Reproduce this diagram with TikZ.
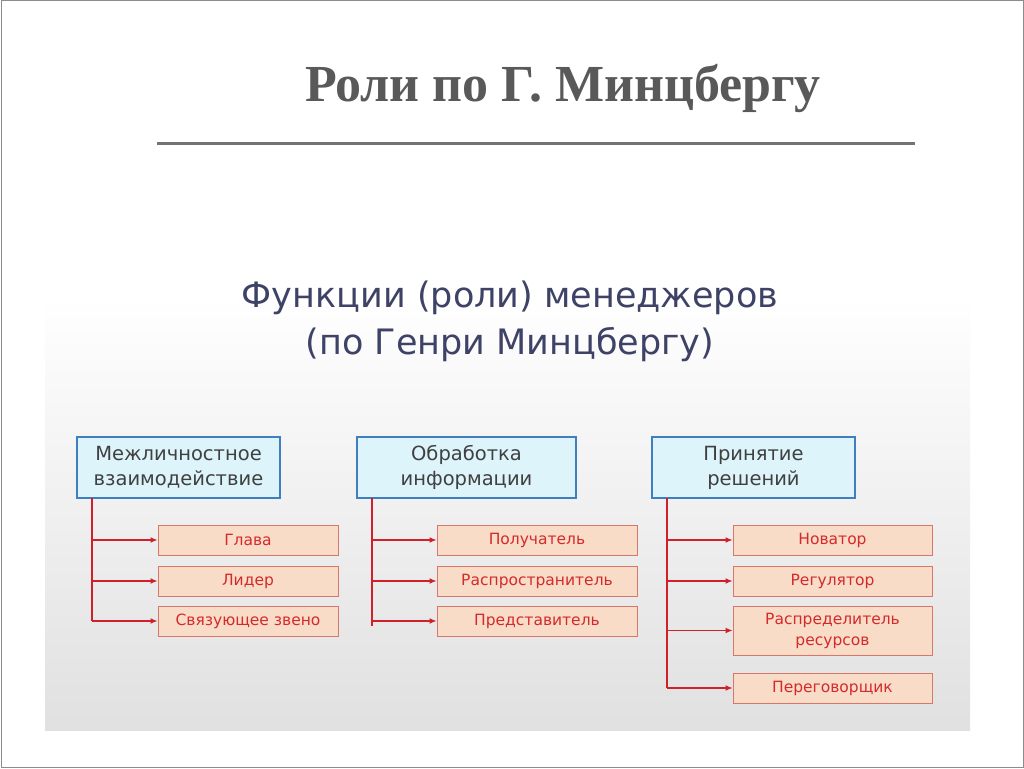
\documentclass[tikz,border=0pt]{standalone}
\usepackage{fontspec}
\setmainfont{DejaVu Sans}
\newfontfamily\titlefont{Liberation Serif}
\usetikzlibrary{arrows.meta}
\definecolor{bluefill}{HTML}{DDF4FB}
\definecolor{blueline}{HTML}{3F7FC0}
\definecolor{redfill}{HTML}{F9DCC8}
\definecolor{redline}{HTML}{D9766A}
\definecolor{redtext}{HTML}{D42A2A}
\definecolor{conn}{HTML}{D0202A}
\definecolor{subt}{HTML}{3E4266}
\tikzset{
 x=1pt,y=-1pt,
 catbox/.style={draw=blueline,fill=bluefill,line width=1.3pt,align=center,font=\fontsize{19.5}{25}\selectfont,text=black!75,inner sep=0pt},
 rolebox/.style={draw=redline,fill=redfill,line width=1pt,align=center,font=\fontsize{15.5}{21}\selectfont,text=redtext,inner sep=0pt,minimum height=30pt},
 link/.style={draw=conn,line width=1.5pt},
 arr/.style={draw=conn,line width=1.2pt,-{Latex[length=7pt,width=6pt]}}
}
\begin{document}
\begin{tikzpicture}
\useasboundingbox (0,0) rectangle (1024,768);
\fill[white] (0,0) rectangle (1024,768);
\draw[black!45,line width=1pt] (1,1) rectangle (1023,767);
\node[font=\titlefont\bfseries\fontsize{52}{56}\selectfont,text=black!65] (title) at (563,88) {Роли по Г. Минцбергу};
\draw[black!55,line width=3pt] (157,143) -- (915,143);
\shade[top color=white,bottom color=black!12] (45,295) rectangle (970,730);
\node[font=\fontsize{35}{47}\selectfont,text=subt,align=center] (sub) at (510,321) {Функции (роли) менеджеров\\(по Генри Минцбергу)};
% category boxes
\node[catbox,minimum width=203pt,minimum height=61pt] (c1) at (178.5,467.5) {Межличностное\\взаимодействие};
\node[catbox,minimum width=219pt,minimum height=61pt] (c2) at (466.5,467.5) {Обработка\\информации};
\node[catbox,minimum width=203pt,minimum height=61pt] (c3) at (753.5,467.5) {Принятие\\решений};
% roles
\node[rolebox,minimum width=180pt] (r11) at (248,540) {Глава};
\node[rolebox,minimum width=180pt] (r12) at (248,581) {Лидер};
\node[rolebox,minimum width=180pt] (r13) at (248,621) {Связующее звено};
\node[rolebox,minimum width=200pt] (r21) at (537,540) {Получатель};
\node[rolebox,minimum width=200pt] (r22) at (537,581) {Распространитель};
\node[rolebox,minimum width=200pt] (r23) at (537,621) {Представитель};
\node[rolebox,minimum width=199pt] (r31) at (832.5,540) {Новатор};
\node[rolebox,minimum width=199pt] (r32) at (832.5,581) {Регулятор};
\node[rolebox,minimum width=199pt,minimum height=49pt] (r33) at (832.5,630.5) {Распределитель\\ресурсов};
\node[rolebox,minimum width=199pt] (r34) at (832.5,688) {Переговорщик};
% connectors
\coordinate (t1) at (92,498); \coordinate (b1) at (92,621);
\coordinate (t2) at (372,498); \coordinate (b2) at (372,626);
\coordinate (t3) at (667,498); \coordinate (b3) at (667,688);
\draw[link] (t1) -- (b1);
\draw[link] (t2) -- (b2);
\draw[link] (t3) -- (b3);
\foreach \r in {r11,r12,r13} \draw[arr] (92,0 |- \r.west) -- (\r.west);
\foreach \r in {r21,r22,r23} \draw[arr] (372,0 |- \r.west) -- (\r.west);
\foreach \r in {r31,r32,r33,r34} \draw[arr] (667,0 |- \r.west) -- (\r.west);
\end{tikzpicture}
\end{document}
